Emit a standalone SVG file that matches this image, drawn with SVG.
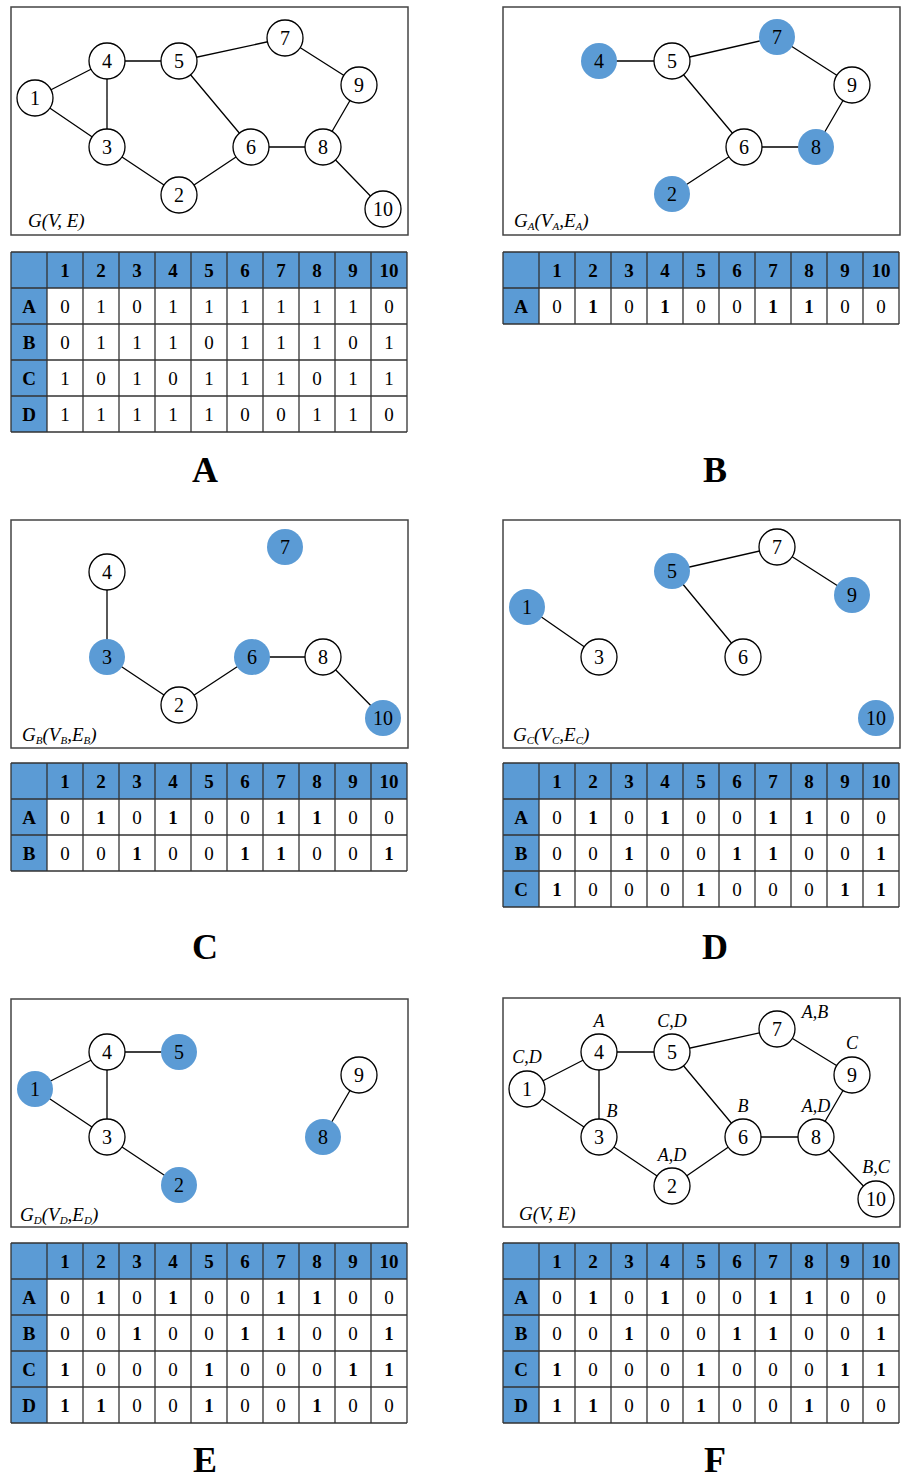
<svg xmlns="http://www.w3.org/2000/svg" width="903" height="1479" viewBox="0 0 903 1479">
<style>
.bg{fill:#fff}
.box{fill:#fff;stroke:#444;stroke-width:1.5}
.n{fill:#fff;stroke:#000;stroke-width:1.3}
.nb{fill:#5b9bd5;stroke:none}
.e{stroke:#000;stroke-width:1.3;fill:none}
.nt{font-family:"Liberation Serif",serif;font-size:20px;text-anchor:middle;fill:#000}
.gl{font-family:"Liberation Serif",serif;font-size:19px;font-style:italic;fill:#000}
.tag{font-family:"Liberation Serif",serif;font-size:18px;font-style:italic;text-anchor:middle;fill:#000}
.blue{fill:#5b9bd5}
.grid{stroke:#333;stroke-width:1.3;fill:none}
.h{font-family:"Liberation Serif",serif;font-size:19px;font-weight:bold;text-anchor:middle;fill:#000}
.v{font-family:"Liberation Serif",serif;font-size:19px;text-anchor:middle;fill:#000}
.b{font-family:"Liberation Serif",serif;font-size:19px;font-weight:bold;text-anchor:middle;fill:#000}
.cap{font-family:"Liberation Serif",serif;font-size:36px;font-weight:bold;text-anchor:middle;fill:#000}
</style>
<defs>
<g id="hdr">
<text class="h" x="54" y="25">1</text><text class="h" x="90" y="25">2</text><text class="h" x="126" y="25">3</text><text class="h" x="162" y="25">4</text><text class="h" x="198" y="25">5</text><text class="h" x="234" y="25">6</text><text class="h" x="270" y="25">7</text><text class="h" x="306" y="25">8</text><text class="h" x="342" y="25">9</text><text class="h" x="378" y="25">10</text>
</g>
</defs>
<rect class="bg" x="0" y="0" width="903" height="1479"/>

<!-- ===== Panel A ===== -->
<g id="panelA">
<rect class="box" x="11" y="7" width="397" height="228"/>
<g id="A-edges">
<path class="e" d="M35,98L107,61M35,98L107,147M107,61L107,147M107,61L179,61M179,61L285,38M285,38L359,85M359,85L323,147M179,61L251,147M251,147L323,147M107,147L179,195M179,195L251,147M323,147L383,209"/>
</g>
<g id="A-n1"><circle class="n" cx="35" cy="98" r="18"/><text class="nt" x="35" y="105">1</text></g>
<g id="A-n2"><circle class="n" cx="179" cy="195" r="18"/><text class="nt" x="179" y="202">2</text></g>
<g id="A-n3"><circle class="n" cx="107" cy="147" r="18"/><text class="nt" x="107" y="154">3</text></g>
<g id="A-n4"><circle class="n" cx="107" cy="61" r="18"/><text class="nt" x="107" y="68">4</text></g>
<g id="A-n5"><circle class="n" cx="179" cy="61" r="18"/><text class="nt" x="179" y="68">5</text></g>
<g id="A-n6"><circle class="n" cx="251" cy="147" r="18"/><text class="nt" x="251" y="154">6</text></g>
<g id="A-n7"><circle class="n" cx="285" cy="38" r="18"/><text class="nt" x="285" y="45">7</text></g>
<g id="A-n8"><circle class="n" cx="323" cy="147" r="18"/><text class="nt" x="323" y="154">8</text></g>
<g id="A-n9"><circle class="n" cx="359" cy="85" r="18"/><text class="nt" x="359" y="92">9</text></g>
<g id="A-n10"><circle class="n" cx="383" cy="209" r="18"/><text class="nt" x="383" y="216">10</text></g>
<text class="gl" x="28" y="227">G(V, E)</text>
</g>
<g id="tableA" transform="translate(11,252)">
<rect class="bg" x="0" y="0" width="396" height="180"/>
<rect class="blue" x="0" y="0" width="396" height="36"/>
<rect class="blue" x="0" y="36" width="36" height="144"/>
<path class="grid" d="M0,0H396M0,36H396M0,72H396M0,108H396M0,144H396M0,180H396M0,0V180M36,0V180M72,0V180M108,0V180M144,0V180M180,0V180M216,0V180M252,0V180M288,0V180M324,0V180M360,0V180M396,0V180"/>
<use href="#hdr"/>
<text class="h" x="18" y="61">A</text><text class="h" x="18" y="97">B</text><text class="h" x="18" y="133">C</text><text class="h" x="18" y="169">D</text>
<text class="v" x="54" y="61">0</text><text class="v" x="90" y="61">1</text><text class="v" x="126" y="61">0</text><text class="v" x="162" y="61">1</text><text class="v" x="198" y="61">1</text><text class="v" x="234" y="61">1</text><text class="v" x="270" y="61">1</text><text class="v" x="306" y="61">1</text><text class="v" x="342" y="61">1</text><text class="v" x="378" y="61">0</text>
<text class="v" x="54" y="97">0</text><text class="v" x="90" y="97">1</text><text class="v" x="126" y="97">1</text><text class="v" x="162" y="97">1</text><text class="v" x="198" y="97">0</text><text class="v" x="234" y="97">1</text><text class="v" x="270" y="97">1</text><text class="v" x="306" y="97">1</text><text class="v" x="342" y="97">0</text><text class="v" x="378" y="97">1</text>
<text class="v" x="54" y="133">1</text><text class="v" x="90" y="133">0</text><text class="v" x="126" y="133">1</text><text class="v" x="162" y="133">0</text><text class="v" x="198" y="133">1</text><text class="v" x="234" y="133">1</text><text class="v" x="270" y="133">1</text><text class="v" x="306" y="133">0</text><text class="v" x="342" y="133">1</text><text class="v" x="378" y="133">1</text>
<text class="v" x="54" y="169">1</text><text class="v" x="90" y="169">1</text><text class="v" x="126" y="169">1</text><text class="v" x="162" y="169">1</text><text class="v" x="198" y="169">1</text><text class="v" x="234" y="169">0</text><text class="v" x="270" y="169">0</text><text class="v" x="306" y="169">1</text><text class="v" x="342" y="169">1</text><text class="v" x="378" y="169">0</text>
</g>
<text class="cap" x="205" y="482">A</text>

<!-- ===== Panel B ===== -->
<g id="panelB">
<rect class="box" x="503" y="7" width="397" height="228"/>
<g id="B-edges">
<path class="e" d="M599,61L672,61M672,61L777,37M777,37L852,85M852,85L816,147M672,61L744,147M744,147L816,147M744,147L672,194"/>
</g>
<g id="B-n2"><circle class="nb" cx="672" cy="194" r="18"/><text class="nt" x="672" y="201">2</text></g>
<g id="B-n4"><circle class="nb" cx="599" cy="61" r="18"/><text class="nt" x="599" y="68">4</text></g>
<g id="B-n5"><circle class="n" cx="672" cy="61" r="18"/><text class="nt" x="672" y="68">5</text></g>
<g id="B-n6"><circle class="n" cx="744" cy="147" r="18"/><text class="nt" x="744" y="154">6</text></g>
<g id="B-n7"><circle class="nb" cx="777" cy="37" r="18"/><text class="nt" x="777" y="44">7</text></g>
<g id="B-n8"><circle class="nb" cx="816" cy="147" r="18"/><text class="nt" x="816" y="154">8</text></g>
<g id="B-n9"><circle class="n" cx="852" cy="85" r="18"/><text class="nt" x="852" y="92">9</text></g>
<text class="gl" x="514" y="227">G<tspan font-size="11" dy="3">A</tspan><tspan dy="-3">(V</tspan><tspan font-size="11" dy="3">A</tspan><tspan dy="-3">,E</tspan><tspan font-size="11" dy="3">A</tspan><tspan dy="-3">)</tspan></text>
</g>
<g id="tableB" transform="translate(503,252)">
<rect class="bg" x="0" y="0" width="396" height="72"/>
<rect class="blue" x="0" y="0" width="396" height="36"/>
<rect class="blue" x="0" y="36" width="36" height="36"/>
<path class="grid" d="M0,0H396M0,36H396M0,72H396M0,0V72M36,0V72M72,0V72M108,0V72M144,0V72M180,0V72M216,0V72M252,0V72M288,0V72M324,0V72M360,0V72M396,0V72"/>
<use href="#hdr"/>
<text class="h" x="18" y="61">A</text>
<text class="v" x="54" y="61">0</text><text class="b" x="90" y="61">1</text><text class="v" x="126" y="61">0</text><text class="b" x="162" y="61">1</text><text class="v" x="198" y="61">0</text><text class="v" x="234" y="61">0</text><text class="b" x="270" y="61">1</text><text class="b" x="306" y="61">1</text><text class="v" x="342" y="61">0</text><text class="v" x="378" y="61">0</text>
</g>
<text class="cap" x="715" y="482">B</text>

<!-- ===== Panel C ===== -->
<g id="panelC">
<rect class="box" x="11" y="520" width="397" height="228"/>
<g id="C-edges">
<path class="e" d="M107,572L107,657M107,657L179,705M179,705L252,657M252,657L323,657M323,657L383,718"/>
</g>
<g id="C-n2"><circle class="n" cx="179" cy="705" r="18"/><text class="nt" x="179" y="712">2</text></g>
<g id="C-n3"><circle class="nb" cx="107" cy="657" r="18"/><text class="nt" x="107" y="664">3</text></g>
<g id="C-n4"><circle class="n" cx="107" cy="572" r="18"/><text class="nt" x="107" y="579">4</text></g>
<g id="C-n6"><circle class="nb" cx="252" cy="657" r="18"/><text class="nt" x="252" y="664">6</text></g>
<g id="C-n7"><circle class="nb" cx="285" cy="547" r="18"/><text class="nt" x="285" y="554">7</text></g>
<g id="C-n8"><circle class="n" cx="323" cy="657" r="18"/><text class="nt" x="323" y="664">8</text></g>
<g id="C-n10"><circle class="nb" cx="383" cy="718" r="18"/><text class="nt" x="383" y="725">10</text></g>
<text class="gl" x="22" y="741">G<tspan font-size="11" dy="3">B</tspan><tspan dy="-3">(V</tspan><tspan font-size="11" dy="3">B</tspan><tspan dy="-3">,E</tspan><tspan font-size="11" dy="3">B</tspan><tspan dy="-3">)</tspan></text>
</g>
<g id="tableC" transform="translate(11,763)">
<rect class="bg" x="0" y="0" width="396" height="108"/>
<rect class="blue" x="0" y="0" width="396" height="36"/>
<rect class="blue" x="0" y="36" width="36" height="72"/>
<path class="grid" d="M0,0H396M0,36H396M0,72H396M0,108H396M0,0V108M36,0V108M72,0V108M108,0V108M144,0V108M180,0V108M216,0V108M252,0V108M288,0V108M324,0V108M360,0V108M396,0V108"/>
<use href="#hdr"/>
<text class="h" x="18" y="61">A</text><text class="h" x="18" y="97">B</text>
<text class="v" x="54" y="61">0</text><text class="b" x="90" y="61">1</text><text class="v" x="126" y="61">0</text><text class="b" x="162" y="61">1</text><text class="v" x="198" y="61">0</text><text class="v" x="234" y="61">0</text><text class="b" x="270" y="61">1</text><text class="b" x="306" y="61">1</text><text class="v" x="342" y="61">0</text><text class="v" x="378" y="61">0</text>
<text class="v" x="54" y="97">0</text><text class="v" x="90" y="97">0</text><text class="b" x="126" y="97">1</text><text class="v" x="162" y="97">0</text><text class="v" x="198" y="97">0</text><text class="b" x="234" y="97">1</text><text class="b" x="270" y="97">1</text><text class="v" x="306" y="97">0</text><text class="v" x="342" y="97">0</text><text class="b" x="378" y="97">1</text>
</g>
<text class="cap" x="205" y="959">C</text>

<!-- ===== Panel D ===== -->
<g id="panelD">
<rect class="box" x="503" y="520" width="397" height="228"/>
<g id="D-edges">
<path class="e" d="M527,607L599,657M672,571L777,547M777,547L852,595M672,571L743,657"/>
</g>
<g id="D-n1"><circle class="nb" cx="527" cy="607" r="18"/><text class="nt" x="527" y="614">1</text></g>
<g id="D-n3"><circle class="n" cx="599" cy="657" r="18"/><text class="nt" x="599" y="664">3</text></g>
<g id="D-n5"><circle class="nb" cx="672" cy="571" r="18"/><text class="nt" x="672" y="578">5</text></g>
<g id="D-n6"><circle class="n" cx="743" cy="657" r="18"/><text class="nt" x="743" y="664">6</text></g>
<g id="D-n7"><circle class="n" cx="777" cy="547" r="18"/><text class="nt" x="777" y="554">7</text></g>
<g id="D-n9"><circle class="nb" cx="852" cy="595" r="18"/><text class="nt" x="852" y="602">9</text></g>
<g id="D-n10"><circle class="nb" cx="876" cy="718" r="18"/><text class="nt" x="876" y="725">10</text></g>
<text class="gl" x="513" y="741">G<tspan font-size="11" dy="3">C</tspan><tspan dy="-3">(V</tspan><tspan font-size="11" dy="3">C</tspan><tspan dy="-3">,E</tspan><tspan font-size="11" dy="3">C</tspan><tspan dy="-3">)</tspan></text>
</g>
<g id="tableD" transform="translate(503,763)">
<rect class="bg" x="0" y="0" width="396" height="144"/>
<rect class="blue" x="0" y="0" width="396" height="36"/>
<rect class="blue" x="0" y="36" width="36" height="108"/>
<path class="grid" d="M0,0H396M0,36H396M0,72H396M0,108H396M0,144H396M0,0V144M36,0V144M72,0V144M108,0V144M144,0V144M180,0V144M216,0V144M252,0V144M288,0V144M324,0V144M360,0V144M396,0V144"/>
<use href="#hdr"/>
<text class="h" x="18" y="61">A</text><text class="h" x="18" y="97">B</text><text class="h" x="18" y="133">C</text>
<text class="v" x="54" y="61">0</text><text class="b" x="90" y="61">1</text><text class="v" x="126" y="61">0</text><text class="b" x="162" y="61">1</text><text class="v" x="198" y="61">0</text><text class="v" x="234" y="61">0</text><text class="b" x="270" y="61">1</text><text class="b" x="306" y="61">1</text><text class="v" x="342" y="61">0</text><text class="v" x="378" y="61">0</text>
<text class="v" x="54" y="97">0</text><text class="v" x="90" y="97">0</text><text class="b" x="126" y="97">1</text><text class="v" x="162" y="97">0</text><text class="v" x="198" y="97">0</text><text class="b" x="234" y="97">1</text><text class="b" x="270" y="97">1</text><text class="v" x="306" y="97">0</text><text class="v" x="342" y="97">0</text><text class="b" x="378" y="97">1</text>
<text class="b" x="54" y="133">1</text><text class="v" x="90" y="133">0</text><text class="v" x="126" y="133">0</text><text class="v" x="162" y="133">0</text><text class="b" x="198" y="133">1</text><text class="v" x="234" y="133">0</text><text class="v" x="270" y="133">0</text><text class="v" x="306" y="133">0</text><text class="b" x="342" y="133">1</text><text class="b" x="378" y="133">1</text>
</g>
<text class="cap" x="715" y="959">D</text>

<!-- ===== Panel E ===== -->
<g id="panelE">
<rect class="box" x="11" y="999" width="397" height="228"/>
<g id="E-edges">
<path class="e" d="M35,1089L107,1052M35,1089L107,1137M107,1052L107,1137M107,1052L179,1052M107,1137L179,1185M359,1075L323,1137"/>
</g>
<g id="E-n1"><circle class="nb" cx="35" cy="1089" r="18"/><text class="nt" x="35" y="1096">1</text></g>
<g id="E-n2"><circle class="nb" cx="179" cy="1185" r="18"/><text class="nt" x="179" y="1192">2</text></g>
<g id="E-n3"><circle class="n" cx="107" cy="1137" r="18"/><text class="nt" x="107" y="1144">3</text></g>
<g id="E-n4"><circle class="n" cx="107" cy="1052" r="18"/><text class="nt" x="107" y="1059">4</text></g>
<g id="E-n5"><circle class="nb" cx="179" cy="1052" r="18"/><text class="nt" x="179" y="1059">5</text></g>
<g id="E-n8"><circle class="nb" cx="323" cy="1137" r="18"/><text class="nt" x="323" y="1144">8</text></g>
<g id="E-n9"><circle class="n" cx="359" cy="1075" r="18"/><text class="nt" x="359" y="1082">9</text></g>
<text class="gl" x="20" y="1221">G<tspan font-size="11" dy="3">D</tspan><tspan dy="-3">(V</tspan><tspan font-size="11" dy="3">D</tspan><tspan dy="-3">,E</tspan><tspan font-size="11" dy="3">D</tspan><tspan dy="-3">)</tspan></text>
</g>
<g id="tableE" transform="translate(11,1243)">
<rect class="bg" x="0" y="0" width="396" height="180"/>
<rect class="blue" x="0" y="0" width="396" height="36"/>
<rect class="blue" x="0" y="36" width="36" height="144"/>
<path class="grid" d="M0,0H396M0,36H396M0,72H396M0,108H396M0,144H396M0,180H396M0,0V180M36,0V180M72,0V180M108,0V180M144,0V180M180,0V180M216,0V180M252,0V180M288,0V180M324,0V180M360,0V180M396,0V180"/>
<use href="#hdr"/>
<text class="h" x="18" y="61">A</text><text class="h" x="18" y="97">B</text><text class="h" x="18" y="133">C</text><text class="h" x="18" y="169">D</text>
<text class="v" x="54" y="61">0</text><text class="b" x="90" y="61">1</text><text class="v" x="126" y="61">0</text><text class="b" x="162" y="61">1</text><text class="v" x="198" y="61">0</text><text class="v" x="234" y="61">0</text><text class="b" x="270" y="61">1</text><text class="b" x="306" y="61">1</text><text class="v" x="342" y="61">0</text><text class="v" x="378" y="61">0</text>
<text class="v" x="54" y="97">0</text><text class="v" x="90" y="97">0</text><text class="b" x="126" y="97">1</text><text class="v" x="162" y="97">0</text><text class="v" x="198" y="97">0</text><text class="b" x="234" y="97">1</text><text class="b" x="270" y="97">1</text><text class="v" x="306" y="97">0</text><text class="v" x="342" y="97">0</text><text class="b" x="378" y="97">1</text>
<text class="b" x="54" y="133">1</text><text class="v" x="90" y="133">0</text><text class="v" x="126" y="133">0</text><text class="v" x="162" y="133">0</text><text class="b" x="198" y="133">1</text><text class="v" x="234" y="133">0</text><text class="v" x="270" y="133">0</text><text class="v" x="306" y="133">0</text><text class="b" x="342" y="133">1</text><text class="b" x="378" y="133">1</text>
<text class="b" x="54" y="169">1</text><text class="b" x="90" y="169">1</text><text class="v" x="126" y="169">0</text><text class="v" x="162" y="169">0</text><text class="b" x="198" y="169">1</text><text class="v" x="234" y="169">0</text><text class="v" x="270" y="169">0</text><text class="b" x="306" y="169">1</text><text class="v" x="342" y="169">0</text><text class="v" x="378" y="169">0</text>
</g>
<text class="cap" x="205" y="1472">E</text>

<!-- ===== Panel F ===== -->
<g id="panelF">
<rect class="box" x="503" y="998" width="397" height="229"/>
<g id="F-edges">
<path class="e" d="M527,1089L599,1052M527,1089L599,1137M599,1052L599,1137M599,1052L672,1052M672,1052L777,1029M777,1029L852,1075M852,1075L816,1137M672,1052L743,1137M743,1137L816,1137M599,1137L672,1186M672,1186L743,1137M816,1137L876,1199"/>
</g>
<g id="F-n1"><circle class="n" cx="527" cy="1089" r="18"/><text class="nt" x="527" y="1096">1</text><text class="tag" x="527" y="1063">C,D</text></g>
<g id="F-n2"><circle class="n" cx="672" cy="1186" r="18"/><text class="nt" x="672" y="1193">2</text><text class="tag" x="672" y="1161">A,D</text></g>
<g id="F-n3"><circle class="n" cx="599" cy="1137" r="18"/><text class="nt" x="599" y="1144">3</text><text class="tag" x="612" y="1117">B</text></g>
<g id="F-n4"><circle class="n" cx="599" cy="1052" r="18"/><text class="nt" x="599" y="1059">4</text><text class="tag" x="599" y="1027">A</text></g>
<g id="F-n5"><circle class="n" cx="672" cy="1052" r="18"/><text class="nt" x="672" y="1059">5</text><text class="tag" x="672" y="1027">C,D</text></g>
<g id="F-n6"><circle class="n" cx="743" cy="1137" r="18"/><text class="nt" x="743" y="1144">6</text><text class="tag" x="743" y="1112">B</text></g>
<g id="F-n7"><circle class="n" cx="777" cy="1029" r="18"/><text class="nt" x="777" y="1036">7</text><text class="tag" x="815" y="1018">A,B</text></g>
<g id="F-n8"><circle class="n" cx="816" cy="1137" r="18"/><text class="nt" x="816" y="1144">8</text><text class="tag" x="816" y="1112">A,D</text></g>
<g id="F-n9"><circle class="n" cx="852" cy="1075" r="18"/><text class="nt" x="852" y="1082">9</text><text class="tag" x="852" y="1049">C</text></g>
<g id="F-n10"><circle class="n" cx="876" cy="1199" r="18"/><text class="nt" x="876" y="1206">10</text><text class="tag" x="876" y="1173">B,C</text></g>
<text class="gl" x="519" y="1220">G(V, E)</text>
</g>
<g id="tableF" transform="translate(503,1243)">
<rect class="bg" x="0" y="0" width="396" height="180"/>
<rect class="blue" x="0" y="0" width="396" height="36"/>
<rect class="blue" x="0" y="36" width="36" height="144"/>
<path class="grid" d="M0,0H396M0,36H396M0,72H396M0,108H396M0,144H396M0,180H396M0,0V180M36,0V180M72,0V180M108,0V180M144,0V180M180,0V180M216,0V180M252,0V180M288,0V180M324,0V180M360,0V180M396,0V180"/>
<use href="#hdr"/>
<text class="h" x="18" y="61">A</text><text class="h" x="18" y="97">B</text><text class="h" x="18" y="133">C</text><text class="h" x="18" y="169">D</text>
<text class="v" x="54" y="61">0</text><text class="b" x="90" y="61">1</text><text class="v" x="126" y="61">0</text><text class="b" x="162" y="61">1</text><text class="v" x="198" y="61">0</text><text class="v" x="234" y="61">0</text><text class="b" x="270" y="61">1</text><text class="b" x="306" y="61">1</text><text class="v" x="342" y="61">0</text><text class="v" x="378" y="61">0</text>
<text class="v" x="54" y="97">0</text><text class="v" x="90" y="97">0</text><text class="b" x="126" y="97">1</text><text class="v" x="162" y="97">0</text><text class="v" x="198" y="97">0</text><text class="b" x="234" y="97">1</text><text class="b" x="270" y="97">1</text><text class="v" x="306" y="97">0</text><text class="v" x="342" y="97">0</text><text class="b" x="378" y="97">1</text>
<text class="b" x="54" y="133">1</text><text class="v" x="90" y="133">0</text><text class="v" x="126" y="133">0</text><text class="v" x="162" y="133">0</text><text class="b" x="198" y="133">1</text><text class="v" x="234" y="133">0</text><text class="v" x="270" y="133">0</text><text class="v" x="306" y="133">0</text><text class="b" x="342" y="133">1</text><text class="b" x="378" y="133">1</text>
<text class="b" x="54" y="169">1</text><text class="b" x="90" y="169">1</text><text class="v" x="126" y="169">0</text><text class="v" x="162" y="169">0</text><text class="b" x="198" y="169">1</text><text class="v" x="234" y="169">0</text><text class="v" x="270" y="169">0</text><text class="b" x="306" y="169">1</text><text class="v" x="342" y="169">0</text><text class="v" x="378" y="169">0</text>
</g>
<text class="cap" x="715" y="1472">F</text>
</svg>
